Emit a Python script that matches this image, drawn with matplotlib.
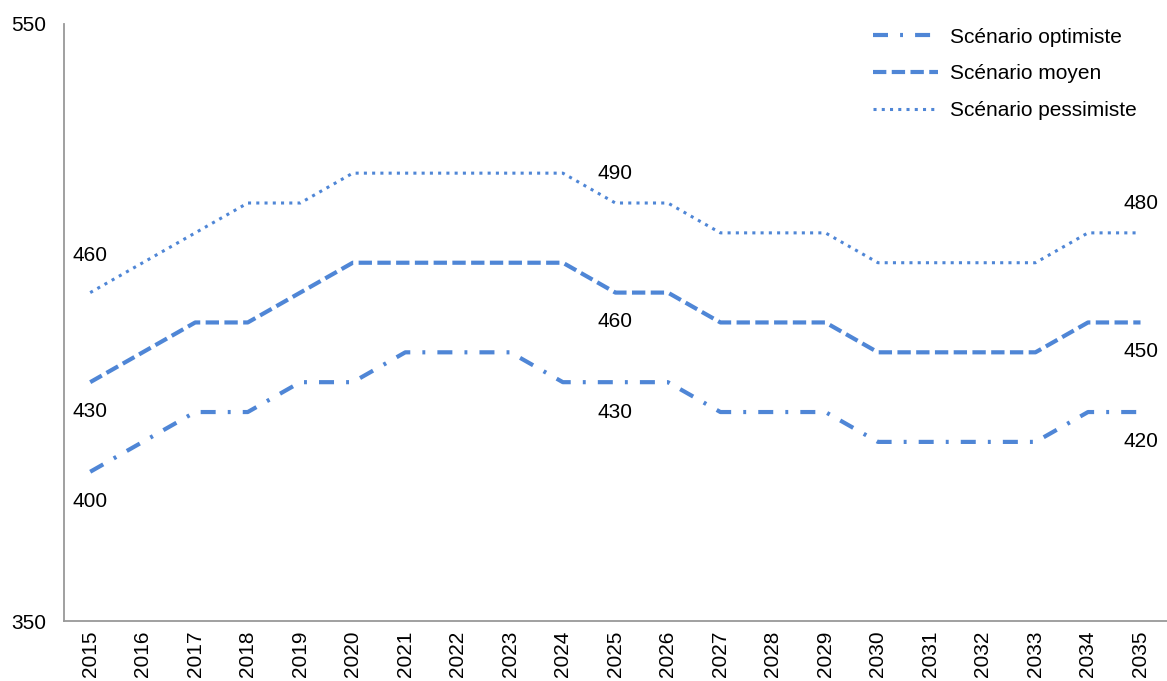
import matplotlib
matplotlib.use("Agg")
import matplotlib.pyplot as plt

plt.rcParams['font.family'] = ['Liberation Sans', 'DejaVu Sans']

years = list(range(2015, 2036))
optimiste = [400, 410, 420, 420, 430, 430, 440, 440, 440, 430, 430, 430, 420, 420, 420, 410, 410, 410, 410, 420, 420]
moyen = [430, 440, 450, 450, 460, 470, 470, 470, 470, 470, 460, 460, 450, 450, 450, 440, 440, 440, 440, 450, 450]
pessimiste = [460, 470, 480, 490, 490, 500, 500, 500, 500, 500, 490, 490, 480, 480, 480, 470, 470, 470, 470, 480, 480]
labels = ["Scénario optimiste", "Scénario moyen", "Scénario pessimiste"]
label_idx = [0, 10, 20]

color = '#4F86D6'
fs = 15
fig = plt.figure(figsize=(11.67, 6.81), dpi=100)
ax = fig.add_axes([0.0548, 0.088, 0.945, 0.877])
x = list(range(len(years)))

ax.plot(x, optimiste, color=color, lw=3, linestyle=(0, (3.6, 2.9, 0.7, 2.9)), label=labels[0])
ax.plot(x, moyen, color=color, lw=3, linestyle=(0, (3.2, 1.3)), label=labels[1])
ax.plot(x, pessimiste, color=color, lw=2.2, linestyle=(0, (1, 1.7)), label=labels[2])

ax.set_xlim(-0.5, len(years) - 0.5)
ax.set_ylim(350, 550)
ax.set_yticks([350, 550])
ax.set_yticklabels(['350', '550'], fontsize=fs)
ax.set_xticks(x)
ax.set_xticklabels([str(y) for y in years], rotation=90, fontsize=fs)
ax.tick_params(length=0, pad=7)
ax.tick_params(axis='y', pad=13)
for s in ['top', 'right']:
    ax.spines[s].set_visible(False)
for s in ['left', 'bottom']:
    ax.spines[s].set_color('#999999')
    ax.spines[s].set_linewidth(1.3)

for i in label_idx:
    up = 27 if i == 0 else 21.5
    ax.annotate(str(pessimiste[i]), (x[i], pessimiste[i]), xytext=(0, up), textcoords='offset points',
                ha='center', va='center', fontsize=fs)
    ax.annotate(str(moyen[i]), (x[i], moyen[i]), xytext=(0, -21), textcoords='offset points',
                ha='center', va='center', fontsize=fs)
    ax.annotate(str(optimiste[i]), (x[i], optimiste[i]), xytext=(0, -21.5), textcoords='offset points',
                ha='center', va='center', fontsize=fs)

ax.legend(loc='upper right', bbox_to_anchor=(0.99, 1.025), frameon=False, fontsize=fs,
          handlelength=3.1, handletextpad=0.6, labelspacing=0.85)

fig.savefig('out.png', dpi=100)
